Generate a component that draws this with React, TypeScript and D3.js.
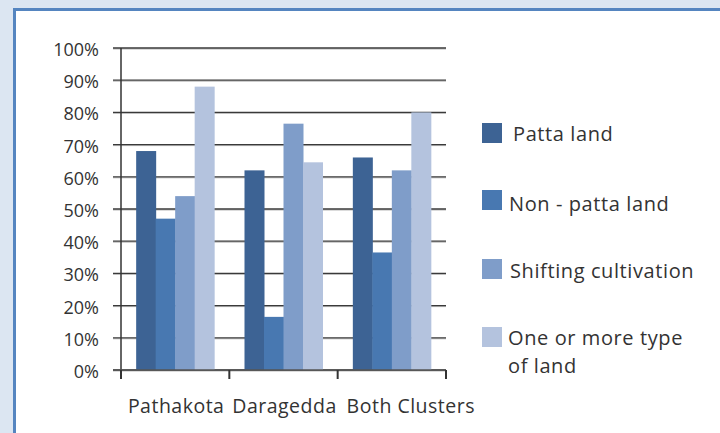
import React from "react";
import * as d3 from "d3";

const categories = ["Pathakota", "Daragedda", "Both Clusters"];
const seriesNames = ["Patta land", "Non - patta land", "Shifting cultivation", "One or more type of land"];
const pattaLand = [68, 62, 66];
const nonPattaLand = [47, 16.5, 36.5];
const shifting = [54, 76.5, 62];
const oneOrMore = [88, 64.5, 80];
const yTicks = [0, 10, 20, 30, 40, 50, 60, 70, 80, 90, 100];
const colors = ["#3d6394", "#4878b1", "#7f9dc9", "#b4c3de"];

const series = [pattaLand, nonPattaLand, shifting, oneOrMore];

export default function App() {
  const w = 720,
    h = 433;
  const margin = { left: 121, right: 274, top: 48, bottom: 63 };
  const width = w - margin.left - margin.right,
    height = h - margin.top - margin.bottom;

  const xScale = d3.scaleBand().domain(categories).range([0, width]).paddingInner(0.28).paddingOuter(0.14);
  const inner = d3.scaleBand().domain(seriesNames).range([0, xScale.bandwidth()]);
  const yScale = d3.scaleLinear().domain([0, 100]).range([height, 0]);
  const band = width / categories.length;

  const font = "'Open Sans', 'DejaVu Sans', sans-serif";

  const grid = yTicks.map((t, i) => (
    <g key={i}>
      <line x1={-8} x2={width} y1={yScale(t) + 1} y2={yScale(t) + 1} stroke="#b8b8b8" strokeWidth={1} />
      <line x1={-8} x2={width} y1={yScale(t)} y2={yScale(t)} stroke="#3a3a3a" strokeWidth={1.3} />
      <text x={-22} y={yScale(t) + 8} textAnchor="end" fontSize={18} fill="#333" fontFamily={font}>
        {t}%
      </text>
    </g>
  ));

  const bars = categories.map((c, ci) => (
    <g key={c} transform={`translate(${xScale(c)},0)`}>
      {series.map((s, si) => (
        <rect
          key={si}
          x={inner(seriesNames[si])}
          y={yScale(s[ci])}
          width={inner.bandwidth() + 0.5}
          height={height - yScale(s[ci])}
          fill={colors[si]}
        />
      ))}
    </g>
  ));

  const xTicks = [0, 1, 2, 3].map((i) => (
    <line key={i} x1={i * band} x2={i * band} y1={height} y2={height + 9} stroke="#333" strokeWidth={2} />
  ));

  // last label runs past its band in the original, pushed right
  const labelShift = [1, 1, 19];
  const xLabels = categories.map((c, i) => (
    <text
      key={c}
      x={i * band + band / 2 + labelShift[i]}
      y={height + 43}
      textAnchor="middle"
      fontSize={19.5}
      letterSpacing={0.5}
      fill="#333"
      fontFamily={font}
    >
      {c}
    </text>
  ));

  const legendY = [133, 200, 269, 337];
  const textX = [513, 509, 510, 508];
  const baseY = [141, 211, 278, 345];
  const legend = seriesNames.map((n, i) => {
    const lines = i === 3 ? ["One or more type", "of land"] : [n];
    return (
      <g key={n}>
        <rect x={482} y={legendY[i] - 10} width={20} height={20} fill={colors[i]} />
        {lines.map((l, li) => (
          <text key={li} x={textX[i]} y={baseY[i] + li * 28} fontSize={20} letterSpacing={0.6} fill="#333" fontFamily={font}>
            {l}
          </text>
        ))}
      </g>
    );
  });

  return (
    <svg width={w} height={h} style={{ position: "absolute", left: 0, top: 0 }}>
      <rect x={0} y={0} width={w} height={h} fill="#dce6f2" />
      <rect x={13} y={8} width={w} height={h} fill="#5585c0" />
      <rect x={16} y={11} width={w} height={h} fill="#ffffff" />
      <g transform={`translate(${margin.left},${margin.top})`}>
        {grid}
        {bars}
        <line x1={0} x2={0} y1={0} y2={height + 9} stroke="#333" strokeWidth={1.5} />
        <line x1={-8} x2={width} y1={height} y2={height} stroke="#555" strokeWidth={1.5} />
        {xTicks}
        {xLabels}
      </g>
      {legend}
    </svg>
  );
}
